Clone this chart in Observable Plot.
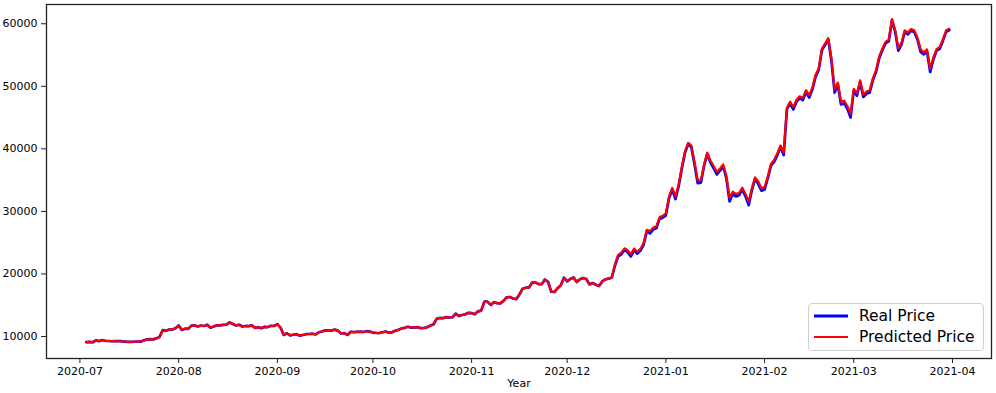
<!DOCTYPE html>
<html><head><meta charset="utf-8">
<script src="https://cdn.jsdelivr.net/npm/d3@7"></script>
<script src="https://cdn.jsdelivr.net/npm/@observablehq/plot@0.6"></script>
<style>
body{margin:0;background:#fff;}
#wrap{position:relative;width:996px;height:393px;overflow:hidden;}
#legend{position:absolute;left:808px;top:303px;width:176px;height:48px;border:1px solid #cfcfcf;border-radius:4px;background:rgba(255,255,255,0.85);box-sizing:border-box;font-family:"DejaVu Sans";font-size:15.5px;color:#000;}
#legend .row{position:absolute;left:0;height:20px;line-height:20px;white-space:nowrap;}
#legend svg{position:absolute;left:4px;top:0;}
#legend span{position:absolute;left:50px;top:0;}
</style></head><body><div id="wrap"></div>
<script>
const startDate = "2020-07-03";
const realPrice = [
9087,9132,9073,9375,9252,9428,9277,9278,9240,9277,9243,9243,9192,9132,9151,9159,9186,9165,9374,9525,9581,9537,9700,9931,11029,10906,11100,11111,11323,
11759,11053,11246,11205,11747,11779,11601,11754,11675,11878,11410,11584,11784,11786,11866,11893,12254,11991,11758,11878,11592,11681,11664,11774,11366,11488,11323,11543,11506,11711,11680,
11970,11414,10245,10511,10170,10280,10370,10131,10242,10363,10400,10442,10323,10680,10796,10974,10948,10945,11094,10938,10462,10538,10246,10760,10692,10750,10775,10709,10844,10784,
10620,10575,10549,10669,10793,10604,10668,10915,11064,11296,11384,11555,11425,11429,11495,11322,11358,11483,11742,11916,12823,12965,12931,13108,13031,13075,13654,13271,13437,13546,13781,
13737,13550,14023,14133,15579,15565,15050,15479,15332,15290,15701,16276,16317,16068,15955,16716,17645,17804,17817,18621,18642,18370,18364,19107,18732,17150,17108,17718,18177,19400,
18802,19201,19445,18699,19154,19345,19192,18321,18553,18264,18058,18803,19142,19246,19417,21310,22806,23137,23870,23478,22803,23783,23241,23736,24665,26800,26500,27100,27300,28800,29000,
29374,32127,33500,31972,33992,36825,39371,40797,40254,37500,34500,34600,37316,39188,37800,36900,35900,36500,37200,35300,31600,32800,32400,32600,33500,32400,31000,33400,35200,34400,33300,
33500,35300,37300,37900,39000,40300,39000,46300,47300,46300,47500,48100,47800,49100,48200,49500,51500,52600,55800,56600,57500,54000,49000,50300,47100,47300,46400,45000,
49300,48500,50700,48300,48800,49000,51000,52300,54500,55800,56900,57200,60600,58700,55700,56700,58700,58300,58900,58700,57500,55500,55100,55600,52300,54300,55700,56000,57300,58700,59000
];
const predictedPrice = [
9100,9125,9090,9350,9265,9410,9290,9280,9245,9272,9248,9242,9198,9140,9150,9160,9182,9168,9355,9510,9575,9545,9695,9915,10960,10915,11090,11110,11310,
11730,11100,11240,11215,11720,11770,11612,11746,11678,11862,11435,11582,11772,11783,11858,11892,12215,11996,11770,11868,11600,11680,11667,11767,11385,11484,11338,11536,11508,11700,11680,
11950,11430,10300,10505,10200,10285,10365,10150,10246,10356,10400,10441,10332,10670,10793,10967,10949,10943,11082,10944,10480,10534,10270,10740,10696,10745,10772,10714,10837,10787,
10630,10582,10555,10664,10786,10612,10669,10908,11057,11288,11382,11548,11432,11430,11492,11331,11359,11477,11731,11908,12790,12958,12936,13099,13036,13072,13625,13285,13433,13543,13770,
13738,13565,14012,14131,15530,15562,15075,15465,15336,15295,15690,16258,16308,16074,15962,16698,17622,17797,17818,18600,18641,18380,18367,19083,18746,17225,17130,17709,18163,19375,
18850,19190,19432,18740,19142,19338,19196,18360,18551,18282,18079,18781,19131,19243,19408,21550,23050,23400,24100,23780,23150,24050,23560,24000,24950,27050,26850,27380,27620,29050,29300,
29700,32400,33750,32400,34300,37100,39600,40950,40550,37900,34950,35000,37550,39400,38150,37250,36300,36850,37500,35700,32200,33150,32800,32950,33800,32800,31600,33700,35450,34800,33700,
33900,35600,37600,38250,39300,40550,39400,46550,47550,46700,47800,48400,48150,49400,48600,49800,51800,52900,56050,56850,57700,54400,49500,50600,47550,47700,46850,45600,
49600,48900,50950,48700,49150,49350,51300,52600,54800,56050,57150,57450,60750,59000,56100,57000,58950,58600,59150,58950,57800,55900,55450,55900,52800,54650,55950,56300,57550,58950,59200
];
const monthTicks = ["2020-07-01","2020-08-01","2020-09-01","2020-10-01","2020-11-01","2020-12-01","2021-01-01","2021-02-01","2021-03-01","2021-04-01"];
const yTicks = [10000,20000,30000,40000,50000,60000];
const seriesNames = ["Real Price","Predicted Price"];
const seriesColors = ["#0000ff","#ff0000"];
const xLabel = "Year";

const n = Math.min(realPrice.length, predictedPrice.length);
const start = new Date(startDate + "T00:00:00Z");
const rows = d3.range(n).map(i => ({date: d3.utcDay.offset(start, i), real: realPrice[i], pred: predictedPrice[i]}));

const chart = Plot.plot({
  width: 996, height: 393,
  marginLeft: 46, marginRight: 5, marginTop: 4, marginBottom: 35,
  style: {fontFamily: "DejaVu Sans", fontSize: "11px", color: "#000", background: "#fff", overflow: "visible"},
  x: {type: "utc", domain: [new Date("2020-06-20T12:00:00Z"), new Date("2021-04-13T06:00:00Z")]},
  y: {domain: [6480, 63080]},
  marks: [
    Plot.axisX({ticks: monthTicks.map(d => new Date(d + "T00:00:00Z")), tickFormat: d3.utcFormat("%Y-%m"), tickSize: 5, tickPadding: 4, label: null, stroke: "#222"}),
    Plot.axisY({ticks: yTicks, tickFormat: d => String(d), tickSize: 5, tickPadding: 4, label: null, stroke: "#222"}),
    Plot.text([xLabel], {frameAnchor: "bottom", dy: 28, text: d => d, fontSize: 11, fill: "#000"}),
    Plot.lineY(rows, {x: "date", y: "real", stroke: seriesColors[0], strokeWidth: 2.7}),
    Plot.lineY(rows, {x: "date", y: "pred", stroke: seriesColors[1], strokeWidth: 2.2}),
    Plot.frame({stroke: "#222", strokeWidth: 1.3})
  ]
});
const wrap = document.getElementById("wrap");
wrap.appendChild(chart);

const legend = document.createElement("div");
legend.id = "legend";
seriesNames.forEach((name, i) => {
  const row = document.createElement("div");
  row.className = "row";
  row.style.top = (2 + i * 21) + "px";
  row.style.width = "100%";
  row.innerHTML = `<svg width="40" height="20"><line x1="1" x2="35" y1="10" y2="10" stroke="${seriesColors[i]}" stroke-width="${i === 0 ? 2.8 : 1.8}"/></svg><span>${name}</span>`;
  legend.appendChild(row);
});
wrap.appendChild(legend);
</script></body></html>
